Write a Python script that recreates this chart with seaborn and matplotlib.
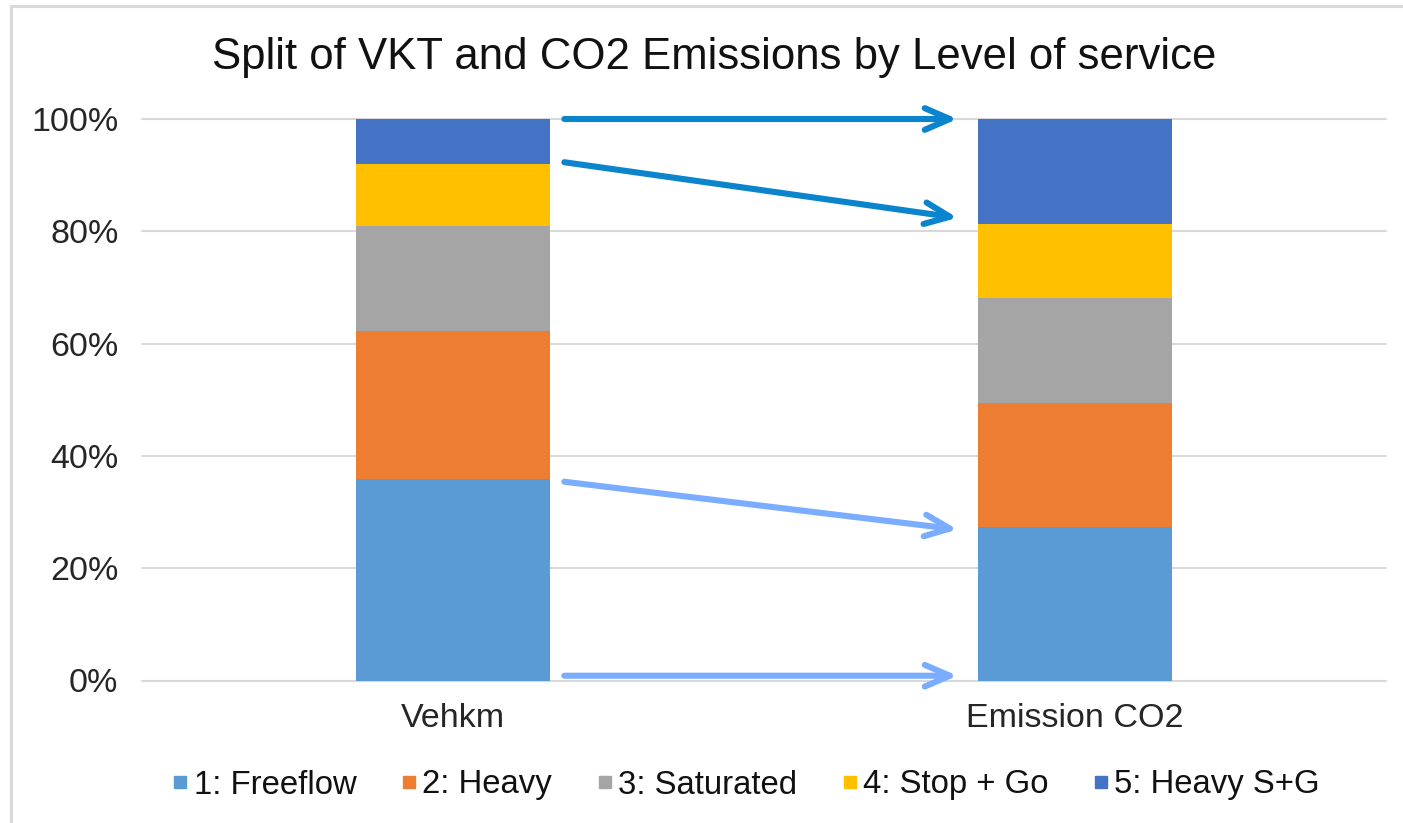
import matplotlib
matplotlib.use("Agg")
import matplotlib.pyplot as plt
import seaborn as sns
import pandas as pd
import numpy as np
from matplotlib.lines import Line2D

categories = ["Vehkm", "Emission CO2"]
levels = ["1: Freeflow", "2: Heavy", "3: Saturated", "4: Stop + Go", "5: Heavy S+G"]
vehkm = [35.8, 26.5, 18.7, 11.0, 8.0]
emission = [27.3, 22.2, 18.7, 13.1, 18.7]
colors = ["#5B9BD5", "#ED7D31", "#A5A5A5", "#FFC000", "#4472C4"]
yticks = [0, 20, 40, 60, 80, 100]
ytick_labels = ["0%", "20%", "40%", "60%", "80%", "100%"]
title = "Split of VKT and CO2 Emissions by Level of service"

# arrows (percent levels): start on Vehkm side, end on Emission side
arrow_from = [100.0, 92.3, 35.4, 0.85]
arrow_to = [100.0, 82.4, 26.9, 0.85]
arrow_colors = ["#0A84CC", "#0A84CC", "#7AADFF", "#7AADFF"]

sns.set_theme(style="white")
plt.rcParams["font.family"] = ["Liberation Sans", "DejaVu Sans"]

fig = plt.figure(figsize=(14.03, 8.23), dpi=100)
ax = fig.add_axes([142 / 1403, 1 - 680.5 / 823, (1386 - 142) / 1403, (680.5 - 119) / 823])

df = pd.DataFrame({"category": np.repeat(categories, len(levels)),
                   "level": levels * len(categories),
                   "value": vehkm + emission})
df["cum"] = df.groupby("category")["value"].cumsum()

# overlay cumulative bars from the top level down
for lvl, col in reversed(list(zip(levels, colors))):
    sub = df[df["level"] == lvl]
    sns.barplot(data=sub, x="category", y="cum", order=categories, color=col,
                width=0.312, saturation=1, ax=ax, edgecolor="none", linewidth=0, zorder=3)

ax.set_xlim(-0.5, 1.5)
ax.set_ylim(0, 100)
ax.set_yticks(yticks)
ax.set_yticklabels(ytick_labels)
ax.set_xlabel("")
ax.set_ylabel("")
for s in ax.spines.values():
    s.set_visible(False)
ax.yaxis.grid(True, color="#D9D9D9", linewidth=1.5, zorder=0)
ax.set_axisbelow(True)
for gl in ax.yaxis.get_gridlines():
    gl.set_clip_on(False)
ax.tick_params(axis="both", length=0, labelsize=24.5, colors="#262626")
ax.tick_params(axis="y", pad=17)
ax.tick_params(axis="x", pad=16)

for y0, y1, c in zip(arrow_from, arrow_to, arrow_colors):
    ax.annotate("", xy=(0.811, y1), xytext=(0.179, y0),
                arrowprops=dict(arrowstyle="->,head_length=1.5,head_width=0.65", color=c,
                                lw=4.4, shrinkA=0, shrinkB=0, capstyle="round",
                                joinstyle="round"),
                zorder=5, annotation_clip=False)

fig.text(714 / 1403, 1 - 58 / 823, title, ha="center", va="center", fontsize=31.5, color="#111111")

handles = [Line2D([0], [0], marker="s", linestyle="none", markersize=9,
                  markerfacecolor=c, markeredgecolor=c) for c in colors]
fig.legend(handles, levels, loc="center", bbox_to_anchor=(746 / 1403, 1 - 785 / 823),
           ncol=5, frameon=False, fontsize=23.7, handlelength=0.5, handletextpad=0.15,
           columnspacing=1.35, labelcolor="#111111")

# chart border
fig.add_artist(Line2D([11 / 1403, 1.0], [1 - 6 / 823, 1 - 6 / 823], color="#D9D9D9", lw=2.2,
                      transform=fig.transFigure))
fig.add_artist(Line2D([11 / 1403, 11 / 1403], [0.0, 1 - 6 / 823], color="#D9D9D9", lw=2.2,
                      transform=fig.transFigure))

fig.savefig("out.png", dpi=100, facecolor="white")
